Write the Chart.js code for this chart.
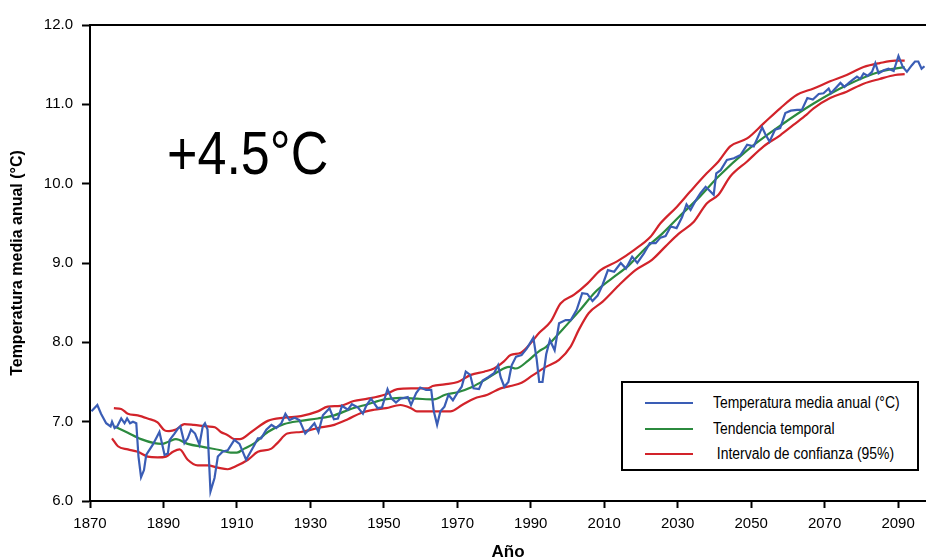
<!DOCTYPE html>
<html><head><meta charset="utf-8">
<script src="https://cdn.jsdelivr.net/npm/chart.js@4/dist/chart.umd.min.js"></script>
<style>
html,body{margin:0;padding:0;background:#fff;}
#wrap{position:relative;width:926px;height:559px;overflow:hidden;background:#fff;}
#c{position:absolute;left:0;top:0;}
#anno{position:absolute;left:167px;top:122px;font-size:62px;line-height:62px;font-family:'Liberation Sans',Arial,sans-serif;color:#000;white-space:nowrap;transform:scaleX(0.84);transform-origin:0 0;}
#legend{position:absolute;left:621px;top:381px;width:294px;height:86px;border:2px solid #000;background:#fff;}
.item{position:absolute;left:22px;height:20px;display:flex;align-items:center;font-size:16px;font-family:'Liberation Sans',Arial,sans-serif;color:#000;white-space:pre;}
.swatch{width:48px;height:2px;margin-right:20px;flex:none;}
.txt{display:inline-block;transform:scaleX(0.87);transform-origin:0 50%;}
</style>
</head><body>
<div id="wrap">
<canvas id="c" width="926" height="559"></canvas>
<div id="anno">+4.5°C</div>
<div id="legend"></div>
</div>
<script>
// ---------- data ----------
const xTickLabels = [1870,1890,1910,1930,1950,1970,1990,2010,2030,2050,2070,2090];
const yTickLabels = [6,7,8,9,10,11,12];

const tempYears = [1870.4,1872,1873,1874.4,1875.6,1876,1876.7,1877.4,1878.5,1879.4,1880.1,1880.9,1881.7,1882.6,1883.2,1883.9,1884.7,1885.3,1887.1,1888.9,1890.3,1891.2,1891.7,1893,1893.9,1894.6,1895.7,1896.6,1897.5,1898.6,1899.8,1900.7,1901.3,1902,1902.8,1903.9,1904.8,1906.1,1907.5,1909.3,1910.7,1912.5,1914.8,1915.7,1916.6,1918,1919.4,1920.7,1922.1,1923.2,1924.3,1925.7,1927,1928.6,1929.8,1931.1,1932.2,1933.4,1935.2,1936.4,1937.5,1938.6,1940.2,1941.3,1942.9,1944.3,1945.2,1946.5,1948.3,1949.5,1951,1952.1,1953.3,1954.5,1956.5,1957.4,1958.8,1959.9,1961.5,1962.9,1963.6,1964.5,1965.4,1966.5,1967.6,1968.8,1970.1,1971.2,1972.3,1973.5,1974.4,1975.9,1976.9,1978.4,1980,1981.1,1981.8,1982.8,1983.9,1984.8,1986,1987.5,1988.9,1990.7,1991.6,1992.3,1993.2,1994.2,1995.2,1996.5,1997.7,1999.5,2000.9,2002.5,2004,2005.4,2006.8,2008.2,2009.5,2011,2012.7,2014.5,2015.9,2017.6,2019,2020.8,2022.4,2024,2025.3,2026.7,2028.1,2029.7,2031.2,2032.4,2033.5,2034.8,2036.2,2037.6,2038.5,2039.8,2040.5,2041.7,2043.4,2045.3,2047.1,2048.9,2050.7,2053,2053.8,2055,2056.5,2057.9,2059.3,2060.8,2062.5,2063.8,2065.3,2066.8,2068.4,2069.7,2071.1,2071.7,2072.9,2074.3,2075.4,2076.6,2077.7,2078.8,2079.7,2080.6,2081.7,2082.9,2083.8,2084.7,2086.1,2087.4,2088.8,2090.1,2091.3,2092.4,2093.7,2094.6,2095.5,2096.4,2097.2];
const tempValues = [7.13,7.21,7.10,6.98,6.94,7.00,6.92,6.94,7.04,6.98,7.04,6.98,7.00,6.98,6.56,6.30,6.39,6.58,6.71,6.87,6.58,6.60,6.77,6.85,6.91,6.94,6.73,6.79,6.90,6.85,6.71,6.94,6.98,6.90,6.12,6.29,6.56,6.62,6.64,6.77,6.72,6.52,6.71,6.79,6.79,6.90,6.96,6.92,6.98,7.10,7.02,7.05,7.02,6.85,6.91,6.98,6.87,7.08,7.17,7.03,7.04,7.20,7.15,7.22,7.18,7.10,7.20,7.29,7.17,7.18,7.41,7.29,7.24,7.29,7.31,7.21,7.36,7.43,7.40,7.40,7.13,6.96,7.13,7.19,7.34,7.27,7.37,7.44,7.63,7.59,7.42,7.41,7.52,7.56,7.61,7.71,7.56,7.44,7.50,7.71,7.82,7.84,7.92,8.06,7.79,7.50,7.50,7.85,8.03,7.90,8.24,8.28,8.28,8.41,8.62,8.61,8.52,8.59,8.72,8.91,8.89,9.00,8.93,9.08,9.00,9.12,9.25,9.25,9.32,9.34,9.46,9.44,9.58,9.74,9.67,9.78,9.88,9.96,9.92,9.86,10.13,10.17,10.30,10.32,10.36,10.49,10.47,10.71,10.63,10.53,10.68,10.70,10.89,10.92,10.93,10.93,11.08,11.06,11.13,11.14,11.20,11.14,11.20,11.27,11.22,11.27,11.31,11.35,11.32,11.39,11.36,11.41,11.52,11.39,11.43,11.45,11.42,11.61,11.47,11.41,11.49,11.54,11.54,11.45,11.48];

const trendYears = [1876.7,1880.3,1883.9,1887.5,1889.5,1891.5,1893.4,1896.6,1901,1905.6,1908.3,1910,1912,1914.8,1918.4,1922.9,1927.4,1932,1936.5,1941,1945.6,1950.2,1954.5,1959,1963.6,1966.7,1970.1,1973.7,1977.3,1980.7,1984.1,1985.9,1989.3,1992.3,1994.1,1998.6,2003.1,2007.7,2012.2,2016.7,2021.3,2025.8,2030.3,2036.1,2041.1,2048.9,2057.9,2067,2076,2085,2091.8];
const trendValues = [6.94,6.86,6.78,6.73,6.72,6.75,6.78,6.72,6.68,6.64,6.61,6.61,6.66,6.73,6.87,6.97,7.01,7.04,7.08,7.16,7.22,7.28,7.30,7.29,7.28,7.34,7.37,7.43,7.52,7.62,7.69,7.67,7.77,7.89,7.94,8.16,8.39,8.64,8.81,8.97,9.19,9.37,9.58,9.84,10.09,10.42,10.73,11.01,11.24,11.41,11.47];

const upperYears = [1876.5,1878.5,1880.3,1883,1885.7,1888.4,1890.3,1891.5,1893.4,1895.7,1898.3,1902,1904,1905.6,1907.5,1909.3,1910.8,1913.9,1918.4,1922.9,1927.4,1932,1934.7,1938.2,1941.8,1945.6,1950.2,1953.7,1957.4,1962,1963.3,1966.5,1970.1,1973.7,1977.3,1980,1982.7,1984.5,1987.3,1990,1992.3,1995.4,1998.1,2001.8,2005.4,2009,2013.5,2018,2022.6,2025.3,2029.8,2033.4,2037.9,2041.1,2044.3,2048.9,2053.4,2057.9,2062.5,2067,2071.5,2076,2080.6,2085,2089.2,2091.8];
const upperValues = [7.17,7.16,7.10,7.08,7.04,6.99,6.89,6.88,6.90,6.97,6.96,6.94,6.93,6.87,6.83,6.78,6.78,6.87,7.01,7.05,7.07,7.13,7.19,7.20,7.26,7.29,7.34,7.41,7.42,7.42,7.45,7.47,7.50,7.59,7.63,7.67,7.76,7.84,7.87,7.99,8.12,8.26,8.49,8.60,8.74,8.91,9.02,9.16,9.33,9.50,9.71,9.90,10.13,10.28,10.47,10.57,10.76,10.95,11.12,11.20,11.29,11.37,11.47,11.52,11.55,11.55];

const lowerYears = [1876,1877.6,1880.3,1883,1885.7,1888.4,1890.7,1892.6,1894.4,1896.6,1899.3,1902,1904.8,1907.5,1909.8,1913,1915.7,1919.4,1921,1923.7,1927.4,1932,1936.5,1940.2,1943.8,1947.4,1950.6,1954.5,1957.4,1959,1963.6,1968.1,1971.3,1974.5,1978.2,1981.8,1984.5,1987.5,1990.4,1994.1,1997.7,2000.9,2003.1,2005.8,2009.5,2014,2018.5,2023,2026.7,2030.3,2034.4,2037.9,2041.1,2044.3,2048.9,2053.4,2057.9,2061.5,2065.1,2067,2071.5,2076,2080.6,2085,2089.2,2091.8];
const lowerValues = [6.79,6.69,6.65,6.62,6.56,6.55,6.56,6.62,6.65,6.52,6.45,6.45,6.42,6.40,6.44,6.52,6.62,6.66,6.73,6.85,6.87,6.92,6.96,7.03,7.11,7.15,7.17,7.21,7.17,7.13,7.13,7.13,7.21,7.29,7.34,7.42,7.45,7.49,7.58,7.69,7.78,7.95,8.16,8.37,8.51,8.72,8.91,9.04,9.21,9.37,9.52,9.75,9.86,10.09,10.28,10.47,10.61,10.74,10.87,10.95,11.08,11.16,11.26,11.32,11.37,11.38];

const seriesNames = ['Temperatura media anual (°C)','Tendencia temporal','Intervalo de confianza (95%)'];
// ------------------------------------------------------

const BLUE = '#3a5db5', GREEN = '#2b8a3e', RED = '#d2232a';
const REG = "'Liberation Sans',Arial,sans-serif";

const pts = (xs, ys) => xs.map((x, i) => ({x: x, y: ys[i]}));

Chart.defaults.color = '#000';
Chart.defaults.font.family = REG;

const framePlugin = {
  id: 'frame',
  afterDraw(chart) {
    const {ctx, chartArea: {left, right, top}} = chart;
    ctx.save();
    ctx.strokeStyle = '#000';
    ctx.lineWidth = 2;
    ctx.beginPath();
    ctx.moveTo(left - 1, top);
    ctx.lineTo(right, top);
    ctx.stroke();
    ctx.restore();
  }
};

const chart = new Chart(document.getElementById('c'), {
  type: 'line',
  data: {
    datasets: [
      {label: seriesNames[0], data: pts(tempYears, tempValues), borderColor: BLUE, borderWidth: 2.2, tension: 0, pointRadius: 0, order: 0, legendKey: 0},
      {label: seriesNames[1], data: pts(trendYears, trendValues), borderColor: GREEN, borderWidth: 2.2, tension: 0.4, cubicInterpolationMode: 'monotone', pointRadius: 0, order: 1, legendKey: 1},
      {label: seriesNames[2], data: pts(upperYears, upperValues), borderColor: RED, borderWidth: 2.2, tension: 0.4, cubicInterpolationMode: 'monotone', pointRadius: 0, order: 2, legendKey: 2},
      {label: seriesNames[2], data: pts(lowerYears, lowerValues), borderColor: RED, borderWidth: 2.2, tension: 0.4, cubicInterpolationMode: 'monotone', pointRadius: 0, order: 2, legendKey: -1}
    ]
  },
  options: {
    responsive: false,
    devicePixelRatio: 1,
    animation: false,
    events: [],
    layout: {padding: {top: 25, right: 0, left: 0, bottom: 0}},
    plugins: {legend: {display: false}, tooltip: {enabled: false}},
    scales: {
      x: {
        type: 'linear',
        min: 1870,
        max: 2097.6,
        afterBuildTicks: (s) => { s.ticks = xTickLabels.map(v => ({value: v})); },
        afterFit: (s) => { s.height = 58; },
        ticks: {autoSkip: false, maxRotation: 0, padding: 7, font: {size: 15, family: REG}, color: '#000', callback: (v) => String(v)},
        grid: {display: true, drawOnChartArea: false, drawTicks: true, tickLength: 7, tickWidth: 2, tickColor: '#000', color: '#000'},
        border: {display: true, color: '#000', width: 2},
        title: {display: true, text: 'Año', font: {size: 17, weight: 'bold', family: REG}, color: '#000', padding: {top: 0, bottom: -4}}
      },
      y: {
        type: 'linear',
        min: 6,
        max: 12,
        afterBuildTicks: (s) => { s.ticks = yTickLabels.map(v => ({value: v})); },
        afterFit: (s) => { s.width = 90; },
        ticks: {padding: 9, font: {size: 15, family: REG}, color: '#000', callback: (v) => Number(v).toFixed(1)},
        grid: {display: true, drawOnChartArea: false, drawTicks: true, tickLength: 8, tickWidth: 2, tickColor: '#000', color: '#000'},
        border: {display: true, color: '#000', width: 2},
        title: {display: true, text: 'Temperatura media anual (°C)', font: {size: 16, weight: 'bold', family: REG}, color: '#000', padding: {top: 8, bottom: 0}}
      }
    }
  },
  plugins: [framePlugin]
});

// HTML legend built from the chart's datasets
const legendEl = document.getElementById('legend');
const rowTops = [10, 35.5, 61];
chart.data.datasets.filter(d => d.legendKey >= 0).forEach((d, i) => {
  const item = document.createElement('div');
  item.className = 'item';
  item.style.top = rowTops[i] + 'px';
  const sw = document.createElement('span');
  sw.className = 'swatch';
  sw.style.background = d.borderColor;
  const tx = document.createElement('span');
  tx.className = 'txt';
  tx.textContent = (i === 2 ? ' ' : '') + d.label;
  item.appendChild(sw); item.appendChild(tx);
  legendEl.appendChild(item);
});
</script>
</body></html>
